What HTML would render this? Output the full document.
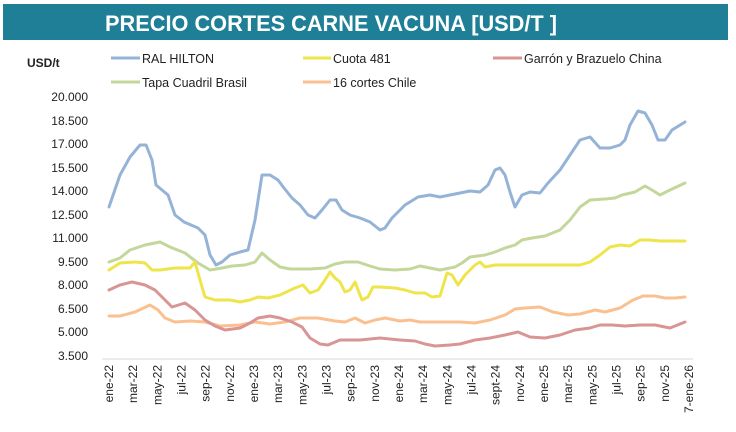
<!DOCTYPE html>
<html><head><meta charset="utf-8"><style>
html,body{margin:0;padding:0;background:#fff;}
svg{display:block;font-family:"Liberation Sans",sans-serif;}
</style></head><body>
<svg width="736" height="432" viewBox="0 0 736 432" xmlns="http://www.w3.org/2000/svg">
<rect x="3" y="4" width="725" height="36" fill="#1f7f97"/>
<text x="331" y="31" text-anchor="middle" font-size="22" font-weight="bold" fill="#fff" textLength="452" lengthAdjust="spacingAndGlyphs">PRECIO CORTES CARNE VACUNA [USD/T ]</text>
<g font-size="12.5" fill="#222">
<text x="27" y="67" font-weight="bold" font-size="12">USD/t</text>
<line x1="111" y1="58" x2="140" y2="58" stroke="#95b3d7" stroke-width="3"/><text x="142" y="63">RAL HILTON</text>
<line x1="303" y1="58" x2="331" y2="58" stroke="#ede54a" stroke-width="3"/><text x="333" y="63">Cuota 481</text>
<line x1="493" y1="58" x2="522" y2="58" stroke="#d99594" stroke-width="3"/><text x="524" y="63">Garrón y Brazuelo China</text>
<line x1="111" y1="82" x2="140" y2="82" stroke="#c4d79b" stroke-width="3"/><text x="142" y="87">Tapa Cuadril Brasil</text>
<line x1="303" y1="82" x2="331" y2="82" stroke="#fac090" stroke-width="3"/><text x="333" y="87">16 cortes Chile</text>
</g>
<g font-size="12" fill="#222" text-anchor="end">
<text x="88" y="101">20.000</text><text x="88" y="125">18.500</text><text x="88" y="148">17.000</text><text x="88" y="172">15.500</text><text x="88" y="195">14.000</text><text x="88" y="219">12.500</text><text x="88" y="242">11.000</text><text x="88" y="266">9.500</text><text x="88" y="289">8.000</text><text x="88" y="313">6.500</text><text x="88" y="336">5.000</text><text x="88" y="360">3.500</text>
</g>
<line x1="102" y1="359" x2="693" y2="359" stroke="#d9d9d9" stroke-width="1"/>
<g font-size="12" fill="#222" text-anchor="end">
<text transform="translate(113,365) rotate(-90)">ene-22</text>
<text transform="translate(137.2,365) rotate(-90)">mar-22</text>
<text transform="translate(161.3,365) rotate(-90)">may-22</text>
<text transform="translate(185.5,365) rotate(-90)">jul-22</text>
<text transform="translate(209.7,365) rotate(-90)">sep-22</text>
<text transform="translate(233.9,365) rotate(-90)">nov-22</text>
<text transform="translate(258,365) rotate(-90)">ene-23</text>
<text transform="translate(282.2,365) rotate(-90)">mar-23</text>
<text transform="translate(306.4,365) rotate(-90)">may-23</text>
<text transform="translate(330.5,365) rotate(-90)">jul-23</text>
<text transform="translate(354.7,365) rotate(-90)">sep-23</text>
<text transform="translate(378.9,365) rotate(-90)">nov-23</text>
<text transform="translate(403,365) rotate(-90)">ene-24</text>
<text transform="translate(427.2,365) rotate(-90)">mar-24</text>
<text transform="translate(451.4,365) rotate(-90)">may-24</text>
<text transform="translate(475.6,365) rotate(-90)">jul-24</text>
<text transform="translate(499.7,365) rotate(-90)">sept-24</text>
<text transform="translate(523.9,365) rotate(-90)">nov-24</text>
<text transform="translate(548.1,365) rotate(-90)">ene-25</text>
<text transform="translate(572.2,365) rotate(-90)">mar-25</text>
<text transform="translate(596.4,365) rotate(-90)">may-25</text>
<text transform="translate(620.6,365) rotate(-90)">jul-25</text>
<text transform="translate(644.7,365) rotate(-90)">sep-25</text>
<text transform="translate(668.9,365) rotate(-90)">nov-25</text>
<text transform="translate(693,365) rotate(-90)">7-ene-26</text>
</g>
<g fill="none" stroke-width="3" stroke-linejoin="round" stroke-linecap="round">
<polyline stroke="#fac090" points="109,316 120,316 135,312 150,305 158,310 165,318 175,322 190,321 205,322 220,326 240,325 255,322 270,324 285,322 300,318 318,318 335,321 345,322 355,318 365,323 375,320 385,318 400,321 410,320 420,322 440,322 460,322 475,323 490,320 505,315 515,309 525,308 540,307 553,312 568,315 580,314 595,310 605,312 620,308 633,300 643,296 655,296 665,298 675,298 685,297"/>
<polyline stroke="#d99594" points="109,290 120,285 132,282 145,285 155,290 165,300 172,307 185,303 195,310 205,320 215,326 225,330 240,328 250,323 258,318 270,316 280,318 292,322 302,327 310,338 320,344 328,345 340,340 360,340 380,338 400,340 415,341 425,344 435,346 450,345 460,344 475,340 490,338 505,335 518,332 530,337 545,338 560,335 575,330 590,328 600,325 612,325 625,326 640,325 655,325 670,328 685,322"/>
<polyline stroke="#c4d79b" points="109,262 120,258 130,250 145,245 160,242 170,247 185,253 198,263 210,270 222,268 232,266 245,265 255,262 262,253 270,260 280,267 290,269 310,269 325,268 335,264 345,262 358,262 370,266 380,269 395,270 410,269 420,266 430,268 440,270 455,267 462,263 470,257 485,255 495,252 505,248 515,245 522,240 532,238 545,236 560,230 570,220 580,207 590,200 605,199 615,198 622,195 635,192 645,186 652,190 660,195 670,190 685,183"/>
<polyline stroke="#ede54a" points="109,270 120,263 135,262 145,263 152,270 160,270 175,268 190,268 195,262 200,280 205,297 215,300 230,300 240,302 250,300 258,297 268,298 280,295 295,288 303,285 310,293 318,290 325,280 330,272 335,278 340,282 345,292 350,290 355,282 362,300 368,297 373,287 380,287 395,288 405,290 415,293 425,293 432,297 440,296 447,273 452,275 458,285 465,275 475,265 480,262 485,267 495,265 520,265 540,265 560,265 580,265 590,262 600,255 610,247 620,245 630,246 640,240 650,240 660,241 685,241"/>
<polyline stroke="#95b3d7" points="109,207 120,175 130,157 140,145 146,145 152,160 156,185 162,190 168,195 175,215 184,222 198,228 205,235 210,255 216,265 222,262 230,255 240,252 248,250 255,220 262,175 270,175 278,180 284,188 292,198 300,205 308,215 315,218 322,210 330,200 336,200 342,210 350,215 360,218 370,222 380,230 385,228 392,218 405,205 418,197 430,195 440,197 450,195 460,193 470,191 480,192 488,185 495,170 500,168 505,175 510,192 515,207 522,195 530,192 540,193 548,183 560,170 570,155 580,140 590,137 600,148 610,148 620,145 625,140 630,125 638,111 645,113 652,125 658,140 665,140 672,130 685,122"/>
</g>
</svg>
</body></html>
